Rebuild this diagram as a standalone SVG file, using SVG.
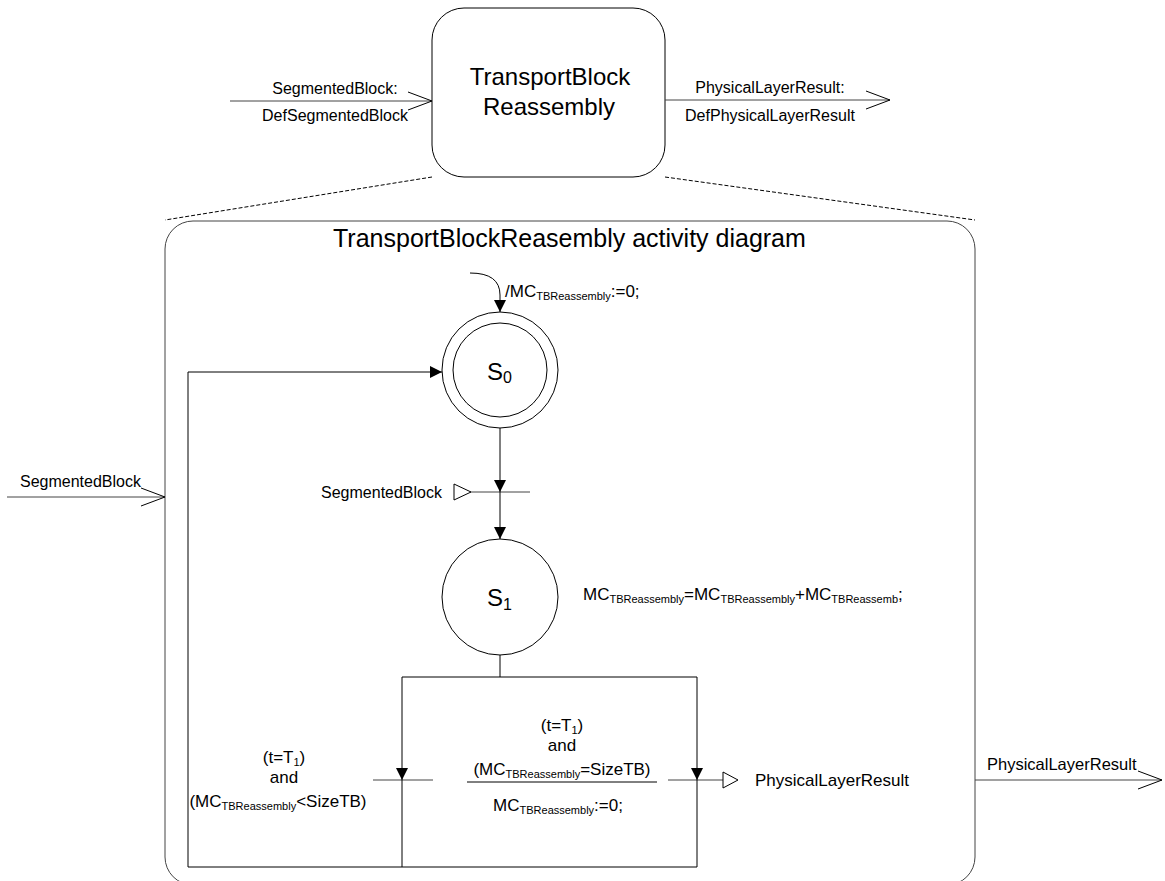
<svg xmlns="http://www.w3.org/2000/svg" width="1165" height="881" viewBox="0 0 1165 881">
<style>
text{font-family:"Liberation Sans",Arial,sans-serif;fill:#000}
.s{font-size:16px}
.m{font-size:17px}
.b{font-size:24px}
.t{font-size:25px}
.st{font-size:24px}
.sub{font-size:11px}
.ssub{font-size:16px}
.ln{fill:none;stroke:#000;stroke-width:1}
.gl{fill:none;stroke:#444;stroke-width:1}
.dash{fill:none;stroke:#000;stroke-width:1;stroke-dasharray:4,2}
</style>
<defs>
<marker id="fill" markerWidth="12" markerHeight="12" refX="12" refY="6" orient="auto" markerUnits="userSpaceOnUse">
<path d="M0,0 L12,6 L0,12 Z" fill="#000"/>
</marker>
<marker id="open" markerWidth="26" markerHeight="20" refX="25" refY="10" orient="auto" markerUnits="userSpaceOnUse">
<path d="M1,1 L25,10 L1,19" fill="none" stroke="#000" stroke-width="1"/>
</marker>
</defs>

<g id="top-block">
<rect x="432" y="8" width="233" height="169" rx="32" class="ln"/>
<text class="b" x="550" y="85" text-anchor="middle">TransportBlock</text>
<text class="b" x="549" y="115" text-anchor="middle">Reassembly</text>
</g>

<g id="activity-frame">
<rect x="165" y="221" width="810" height="664" rx="28" class="gl"/>
<text class="t" x="333" y="247">TransportBlockReasembly activity diagram</text>
</g>

<g id="S0">
<circle cx="500" cy="370" r="58" class="ln"/>
<circle cx="500" cy="370" r="47" class="ln"/>
<text class="st" x="487" y="380">S<tspan class="ssub" dy="3">0</tspan></text>
</g>

<g id="S1">
<circle cx="500" cy="597" r="58" class="ln"/>
<text class="st" x="487" y="606">S<tspan class="ssub" dy="4">1</tspan></text>
</g>

<g id="t-segmented">
<line x1="470" y1="492" x2="530" y2="492" class="gl"/>
<path d="M454,484 L471,492 L454,500 Z" fill="#fff" stroke="#000"/>
<text class="s" x="442" y="498" text-anchor="end">SegmentedBlock</text>
</g>

<g id="t-less">
<line x1="373" y1="780" x2="433" y2="780" class="gl"/>
<text class="m" x="284" y="763" text-anchor="middle">(t=T<tspan class="sub" dy="3">1</tspan><tspan dy="-3">)</tspan></text>
<text class="m" x="284" y="783" text-anchor="middle">and</text>
<text class="m" x="278" y="807" text-anchor="middle">(MC<tspan class="sub" dy="3">TBReassembly</tspan><tspan dy="-3">&lt;SizeTB)</tspan></text>
</g>

<g id="t-equal">
<line x1="668" y1="780" x2="723" y2="780" class="gl"/>
<path d="M723,772 L738,780 L723,788 Z" fill="#fff" stroke="#000"/>
<text class="m" x="755" y="786">PhysicalLayerResult</text>
<text class="m" x="562" y="731" text-anchor="middle">(t=T<tspan class="sub" dy="3">1</tspan><tspan dy="-3">)</tspan></text>
<text class="m" x="562" y="751" text-anchor="middle">and</text>
<text class="m" x="562" y="775" text-anchor="middle">(MC<tspan class="sub" dy="3">TBReassembly</tspan><tspan dy="-3">=SizeTB)</tspan></text>
<line x1="467" y1="782" x2="657" y2="782" class="ln"/>
<text class="m" x="558" y="811" text-anchor="middle">MC<tspan class="sub" dy="3">TBReassembly</tspan><tspan dy="-3">:=0;</tspan></text>
</g>

<g id="action-S1">
<text class="m" x="583" y="600">MC<tspan class="sub" dy="3">TBReassembly</tspan><tspan dy="-3">=MC</tspan><tspan class="sub" dy="3">TBReassembly</tspan><tspan dy="-3">+MC</tspan><tspan class="sub" dy="3">TBReassemb</tspan><tspan dy="-3">;</tspan></text>
</g>

<g id="connectors">
<line x1="432" y1="177" x2="165" y2="220" class="dash"/>
<line x1="665" y1="177" x2="975" y2="220" class="dash"/>
<line x1="230" y1="101" x2="432" y2="101" class="gl" marker-end="url(#open)"/>
<text class="s" x="335" y="94" text-anchor="middle">SegmentedBlock:</text>
<text class="s" x="335" y="121" text-anchor="middle">DefSegmentedBlock</text>
<line x1="665" y1="100" x2="890" y2="100" class="gl" marker-end="url(#open)"/>
<text class="s" x="770" y="93" text-anchor="middle">PhysicalLayerResult:</text>
<text class="s" x="770" y="121" text-anchor="middle">DefPhysicalLayerResult</text>
<line x1="7" y1="497" x2="165" y2="497" class="gl" marker-end="url(#open)"/>
<text class="s" x="20" y="487">SegmentedBlock</text>
<line x1="975" y1="780" x2="1162" y2="780" class="gl" marker-end="url(#open)"/>
<text class="s" x="987" y="770" style="font-size:16.5px">PhysicalLayerResult</text>
<path d="M470,273 Q500,273 500,295 L500,312" class="ln" marker-end="url(#fill)"/>
<text class="m" x="505" y="297">/MC<tspan class="sub" dy="3">TBReassembly</tspan><tspan dy="-3">:=0;</tspan></text>
<line x1="500" y1="428" x2="500" y2="492" class="ln" marker-end="url(#fill)"/>
<line x1="500" y1="492" x2="500" y2="539" class="ln" marker-end="url(#fill)"/>
<line x1="500" y1="655" x2="500" y2="677" class="ln"/>
<line x1="402" y1="677" x2="697" y2="677" class="ln"/>
<line x1="402" y1="677" x2="402" y2="780" class="ln" marker-end="url(#fill)"/>
<line x1="697" y1="677" x2="697" y2="780" class="ln" marker-end="url(#fill)"/>
<line x1="697" y1="780" x2="697" y2="867" class="ln"/>
<path d="M402,780 L402,867 L188,867 L188,372 L442,372" class="ln" marker-end="url(#fill)"/>
<line x1="697" y1="867" x2="402" y2="867" class="ln"/>
</g>
</svg>
